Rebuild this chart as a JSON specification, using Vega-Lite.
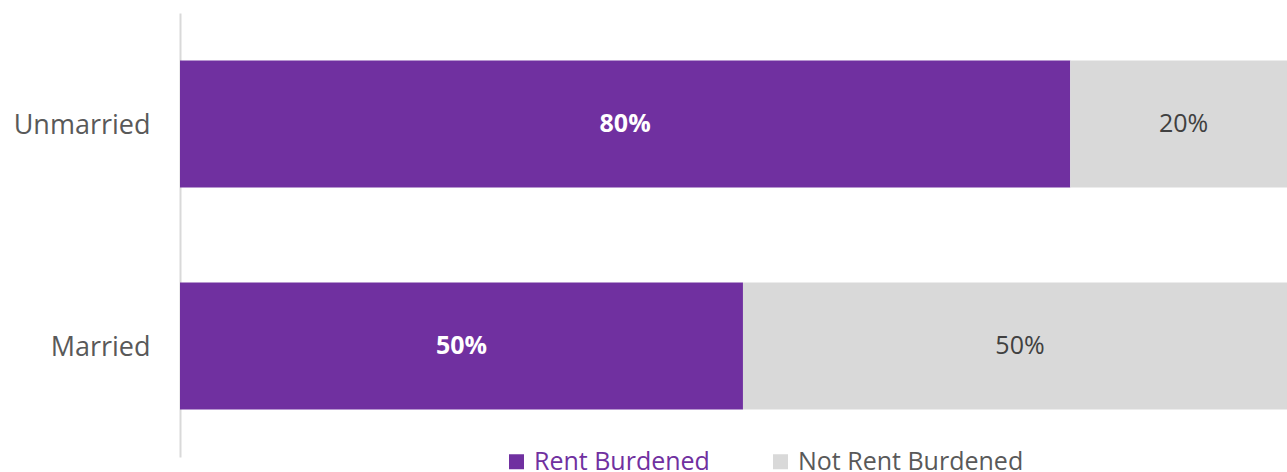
{
  "$schema": "https://vega.github.io/schema/vega-lite/v6.json",
  "width": 1117,
  "height": 444,
  "autosize": {"type": "none"},
  "padding": {"left": 180, "top": 13, "right": 0, "bottom": 15},
  "background": "white",
  "config": {
    "view": {"stroke": null},
    "font": "Open Sans"
  },
  "data": {
    "values": [
      {"group": "Unmarried", "status": "Rent Burdened", "value": 79.7, "ord": 1, "label": "80%"},
      {"group": "Unmarried", "status": "Not Rent Burdened", "value": 20.3, "ord": 2, "label": "20%"},
      {"group": "Married", "status": "Rent Burdened", "value": 50.4, "ord": 1, "label": "50%"},
      {"group": "Married", "status": "Not Rent Burdened", "value": 49.6, "ord": 2, "label": "50%"}
    ]
  },
  "transform": [
    {"stack": "value", "groupby": ["group"], "sort": [{"field": "ord"}], "as": ["v0", "v1"]},
    {"calculate": "(datum.v0 + datum.v1) / 2", "as": "mid"}
  ],
  "encoding": {
    "y": {
      "field": "group",
      "type": "nominal",
      "sort": ["Unmarried", "Married"],
      "scale": {"paddingInner": 0.428, "paddingOuter": 0.214},
      "axis": {
        "title": null,
        "ticks": false,
        "labelFontSize": 27,
        "labelColor": "#595959",
        "labelPadding": 30,
        "labelOffset": 2,
        "domainColor": "#D9D9D9",
        "domainWidth": 2,
        "labelFont": "Open Sans"
      }
    }
  },
  "layer": [
    {
      "mark": {"type": "bar"},
      "encoding": {
        "x": {"field": "v0", "type": "quantitative", "scale": {"domain": [0, 100], "nice": false}, "axis": null},
        "x2": {"field": "v1"},
        "color": {
          "field": "status",
          "type": "nominal",
          "scale": {"domain": ["Rent Burdened", "Not Rent Burdened"], "range": ["#7030A0", "#D9D9D9"]},
          "legend": {
            "title": null,
            "orient": "none",
            "direction": "horizontal",
            "legendX": 324,
            "legendY": 436,
            "symbolType": "square",
            "symbolSize": 225,
            "symbolStrokeWidth": 0,
            "labelFontSize": 25,
            "labelFont": "Open Sans",
            "labelLimit": 400,
            "columnPadding": 58,
            "labelOffset": 5,
            "encode": {
              "labels": {
                "update": {
                  "fill": [
                    {"test": "datum.value === 'Rent Burdened'", "value": "#7030A0"},
                    {"value": "#595959"}
                  ]
                }
              }
            }
          }
        }
      }
    },
    {
      "transform": [{"filter": "datum.status === 'Rent Burdened'"}],
      "mark": {"type": "text", "fontSize": 25, "fontWeight": "bold", "baseline": "middle", "align": "center", "color": "white"},
      "encoding": {
        "x": {"field": "mid", "type": "quantitative"},
        "text": {"field": "label"}
      }
    },
    {
      "transform": [{"filter": "datum.status === 'Not Rent Burdened'"}],
      "mark": {"type": "text", "fontSize": 25, "baseline": "middle", "align": "center", "color": "#404040"},
      "encoding": {
        "x": {"field": "mid", "type": "quantitative"},
        "text": {"field": "label"}
      }
    }
  ]
}
